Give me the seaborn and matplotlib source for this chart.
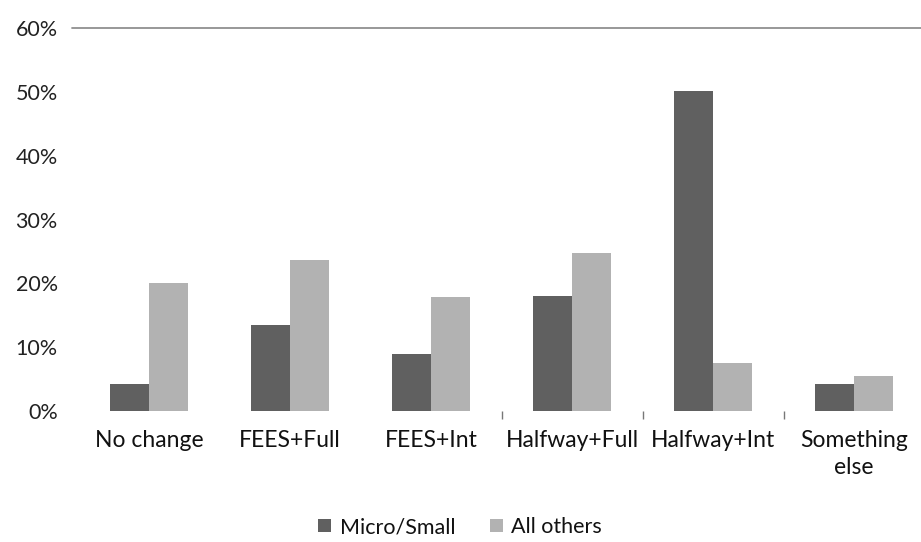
import matplotlib
matplotlib.use("Agg")
import matplotlib.pyplot as plt
import seaborn as sns
import pandas as pd
from matplotlib.ticker import FuncFormatter, FixedLocator

categories = ["No change", "FEES+Full", "FEES+Int", "Halfway+Full", "Halfway+Int", "Something\nelse"]
micro_small = [4.3, 13.5, 9.0, 18.0, 50.2, 4.3]
all_others = [20.0, 23.6, 17.9, 24.8, 7.5, 5.5]
series_names = ["Micro/Small", "All others"]
y_ticks = [0, 10, 20, 30, 40, 50, 60]

df = pd.DataFrame({
    "category": categories * 2,
    "value": micro_small + all_others,
    "series": [series_names[0]] * len(categories) + [series_names[1]] * len(categories),
})

sns.set_theme(style="white")
plt.rcParams["font.family"] = ["Lato", "DejaVu Sans"]

W, H = 921, 542
fig = plt.figure(figsize=(W / 100, H / 100), dpi=100)
ax = fig.add_axes([78.5 / W, 1 - 411 / H, 846 / W, (411 - 28.3) / H])

sns.barplot(data=df, x="category", y="value", hue="series", order=categories,
            hue_order=series_names, palette=["#606060", "#b2b2b2"],
            width=0.56, saturation=1, linewidth=0, ax=ax, legend=True)

ax.set_xlim(-0.5, 5.5)
ax.set_ylim(0, 60)
ax.set_yticks(y_ticks)
ax.yaxis.set_major_formatter(FuncFormatter(lambda v, _: f"{v:.0f}%"))
ax.tick_params(axis="y", length=0, pad=15, labelsize=15.5, labelcolor="#222222")
ax.tick_params(axis="x", length=0, pad=14, labelsize=16.5, labelcolor="#111111")
for lbl in ax.get_xticklabels():
    lbl.set_linespacing(1.35)
ax.set_xlabel("")
ax.set_ylabel("")

# small separator ticks between the later categories
ax.xaxis.set_minor_locator(FixedLocator([2.5, 3.5, 4.5]))
ax.tick_params(axis="x", which="minor", length=6, width=1, color="#777777",
               direction="out", bottom=True)

for side in ["left", "right", "bottom", "top"]:
    ax.spines[side].set_visible(False)
ax.axhline(60, xmin=-0.008, xmax=1, color="#909090", linewidth=1.3, clip_on=False)

leg = ax.legend(loc="center", bbox_to_anchor=(460 / W, 1 - 527 / H), bbox_transform=fig.transFigure,
                ncol=2, frameon=False, fontsize=15.5, handlelength=0.6, handleheight=0.6,
                handletextpad=0.4, columnspacing=1.6, borderpad=0, borderaxespad=0)
for t in leg.get_texts():
    t.set_color("#111111")

fig.savefig("out.png", dpi=100)
